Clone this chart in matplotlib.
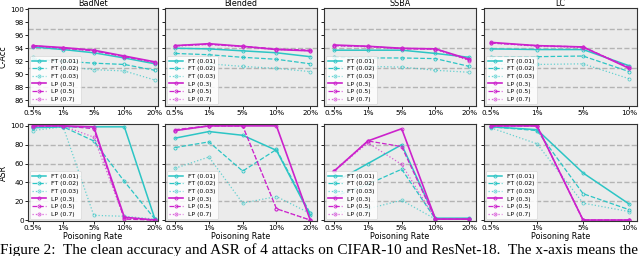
import matplotlib.pyplot as plt

rates5 = ['0.5%', '1%', '5%', '10%', '20%']
rates4 = ['0.5%', '1%', '5%', '10%']
attacks = ['BadNet', 'Blended', 'SSBA', 'LC']
labels = ['FT (0.01)', 'FT (0.02)', 'FT (0.03)', 'LP (0.3)', 'LP (0.5)', 'LP (0.7)']

# clean accuracy, one list per method, per attack
acc_badnet = [
    [94.2, 93.8, 93.3, 92.5, 91.6],
    [92.3, 92.0, 91.7, 91.5, 90.6],
    [92.6, 91.2, 90.7, 90.5, 89.1],
    [94.4, 94.1, 93.7, 92.8, 91.9],
    [94.4, 94.0, 93.6, 92.7, 91.8],
    [94.3, 94.0, 93.6, 92.7, 91.8],
]
acc_blended = [
    [94.0, 93.9, 93.6, 93.3, 92.7],
    [93.2, 93.0, 92.6, 92.3, 91.6],
    [92.0, 91.6, 91.2, 90.9, 90.4],
    [94.4, 94.7, 94.3, 93.8, 93.6],
    [94.4, 94.6, 94.3, 93.9, 93.7],
    [94.3, 94.6, 94.2, 93.8, 93.6],
]
acc_ssba = [
    [93.7, 93.7, 93.7, 93.2, 92.6],
    [92.6, 92.5, 92.5, 92.4, 91.2],
    [91.2, 91.2, 91.1, 90.6, 90.3],
    [94.5, 94.3, 94.0, 93.9, 92.3],
    [94.4, 94.3, 93.9, 93.9, 92.2],
    [94.4, 94.2, 94.0, 93.8, 92.1],
]
acc_lc = [
    [93.9, 93.8, 93.8, 91.3],
    [92.7, 92.7, 92.8, 90.4],
    [91.5, 91.5, 91.6, 89.3],
    [94.9, 94.4, 94.2, 90.9],
    [94.8, 94.4, 94.2, 91.0],
    [94.8, 94.3, 94.1, 91.1],
]

# attack success rate
asr_badnet = [
    [98, 99, 99, 99, 1],
    [99, 99, 84, 41, 1],
    [95, 99, 5, 4, 1],
    [100, 100, 99, 3, 0],
    [100, 100, 97, 1, 0],
    [99, 100, 88, 2, 0],
]
asr_blended = [
    [87, 94, 90, 74, 5],
    [77, 83, 52, 75, 7],
    [55, 67, 18, 25, 7],
    [95, 100, 100, 100, 0],
    [96, 100, 100, 12, 0],
    [95, 100, 100, 12, 0],
]
asr_ssba = [
    [40, 60, 80, 2, 2],
    [25, 38, 54, 1, 1],
    [8, 12, 21, 1, 1],
    [52, 84, 97, 1, 1],
    [52, 84, 78, 1, 1],
    [52, 82, 59, 1, 1],
]
asr_lc = [
    [99, 96, 50, 17],
    [99, 95, 28, 11],
    [98, 81, 18, 9],
    [100, 100, 0, 0],
    [100, 100, 0, 0],
    [100, 100, 0, 0],
]

acc_all = [acc_badnet, acc_blended, acc_ssba, acc_lc]
asr_all = [asr_badnet, asr_blended, asr_ssba, asr_lc]

cyan = '#2cc5c5'
magenta = '#cc22cc'
styles = [
    dict(color=cyan, ls='-', lw=1.1),
    dict(color=cyan, ls='--', lw=0.9),
    dict(color=cyan, ls=':', lw=0.9, alpha=0.7),
    dict(color=magenta, ls='-', lw=1.2),
    dict(color=magenta, ls='--', lw=0.9),
    dict(color=magenta, ls=':', lw=0.9, alpha=0.7),
]

W, H = 640, 256
fig = plt.figure(figsize=(6.4, 2.56), dpi=100)

cols = [(28, 158), (165, 317), (324, 476), (484, 637)]
rows = [(8, 106), (124, 221)]
xmargins = [(-0.15, 4.1), (-0.3, 4.2), (-0.3, 4.2), (-0.15, 3.17)]


def make_ax(c, r):
    x0, x1 = cols[c]
    y0, y1 = rows[r]
    return fig.add_axes([x0 / W, 1 - y1 / H, (x1 - x0) / W, (y1 - y0) / H])


for r, (data_all, ylim, yticks, grid) in enumerate([
        (acc_all, (85.1, 100.2), range(86, 101, 2), [88, 91, 94, 97]),
        (asr_all, (-1, 102), range(0, 101, 20), [20, 40, 60, 80])]):
    for c in range(4):
        ax = make_ax(c, r)
        ax.set_facecolor('#ebebeb')
        rates = rates4 if attacks[c] == 'LC' else rates5
        x = list(range(len(rates)))
        for g in grid:
            ax.axhline(g, color='#b4b4b4', lw=1.0, ls='--', zorder=0)
        for k, vals in enumerate(data_all[c]):
            ax.plot(x, vals, marker='o', ms=2.2, mfc='none', mew=0.6,
                    label=labels[k], **styles[k])
        ax.set_xticks(x)
        ax.set_xticklabels(rates)
        ax.set_xlim(*xmargins[c])
        ax.set_ylim(*ylim)
        ax.set_yticks(list(yticks))
        ax.tick_params(length=2, width=0.6, pad=1, labelsize=5.2)
        if c == 0:
            ax.set_ylabel('C-Acc' if r == 0 else 'ASR', fontsize=5.8, labelpad=1.5)
        else:
            ax.set_yticklabels([])
        if r == 0:
            ax.set_title(attacks[c], fontsize=5.8, pad=1.5)
        else:
            ax.set_xlabel('Poisoning Rate', fontsize=5.8, labelpad=0.5)
        for s in ax.spines.values():
            s.set_linewidth(0.8)
            s.set_color('#333333')
        leg = ax.legend(loc='lower left', fontsize=4.4, handlelength=2.2,
                        labelspacing=0.38, borderpad=0.4, framealpha=0.85,
                        fancybox=True, borderaxespad=0.3)
        leg.get_frame().set_linewidth(0.4)

fig.text(0.0, 2 / H,
         'Figure 2:  The clean accuracy and ASR of 4 attacks on CIFAR-10 and '
         'ResNet-18.  The x-axis means the',
         family='Liberation Serif', fontsize=11, va='baseline', ha='left')

fig.savefig('out.png', dpi=100)
